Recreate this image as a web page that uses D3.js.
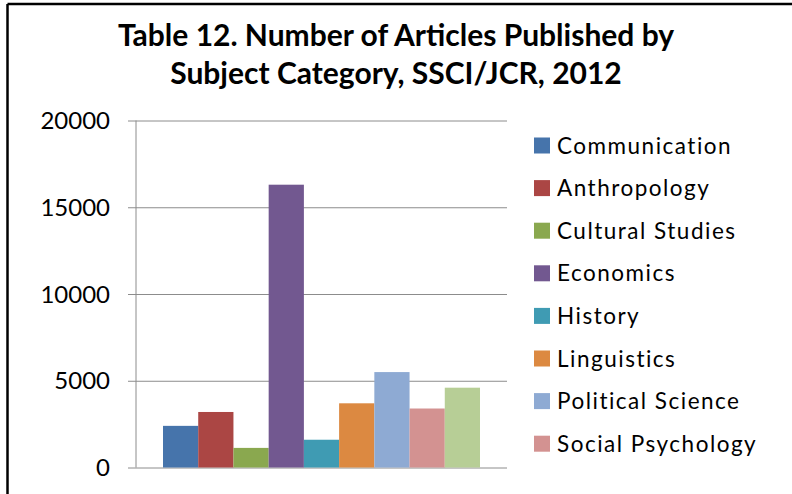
<!DOCTYPE html>
<html>
<head>
<meta charset="utf-8">
<script src="https://cdn.jsdelivr.net/npm/d3@7"></script>
<style>
  body { margin: 0; background: #fff; }
  svg { display: block; }
  text { font-family: Lato, "Open Sans", sans-serif; fill: #000; }
</style>
</head>
<body>
<svg id="chart" width="792" height="494"></svg>
<script>
// Data
var categories = ["Communication", "Anthropology", "Cultural Studies", "Economics", "History",
                  "Linguistics", "Political Science", "Social Psychology", "Sociology"];
var values = [2400, 3200, 1130, 16300, 1600, 3700, 5500, 3400, 4600];
var colors = ["#4674ab", "#ab4644", "#8aa84f", "#725890", "#3f9bb3",
              "#dc8941", "#8eaad3", "#d39291", "#b7ce96"];
var yTicks = [0, 5000, 10000, 15000, 20000];
var titleLines = ["Table 12. Number of Articles Published by", "Subject Category, SSCI/JCR, 2012"];
// the legend in the source is cut off after 8 entries
var legendShown = 8;

var svg = d3.select("#chart");

// Frame (only top and left edges visible in the source)
svg.append("line").attr("x1", 7.5).attr("y1", 4).attr("x2", 792).attr("y2", 4)
  .attr("stroke", "#000").attr("stroke-width", 2.5);
svg.append("line").attr("x1", 7.5).attr("y1", 4).attr("x2", 7.5).attr("y2", 494)
  .attr("stroke", "#000").attr("stroke-width", 2.5);

// Title
svg.selectAll(".title")
  .data(titleLines)
  .enter().append("text")
  .attr("class", "title")
  .attr("x", 396)
  .attr("y", function(d, i) { return 46 + i * 38; })
  .attr("text-anchor", "middle")
  .attr("font-size", 30)
  .attr("font-weight", "bold")
  .text(function(d) { return d; });

// Scales
var plot = { left: 136, right: 507, top: 120.5, bottom: 467.5 };
var y = d3.scaleLinear().domain([0, 20000]).range([plot.bottom, plot.top]);
var x = d3.scaleBand().domain(categories).range([163, 480]).padding(0);

// Gridlines + ticks
var yAxis = d3.axisLeft(y).tickValues(yTicks).tickSize(plot.left - plot.right).tickSizeOuter(0)
  .tickPadding(0);
var ga = svg.append("g").attr("transform", "translate(" + plot.right + ",0)").call(yAxis);
ga.select(".domain").remove();
ga.selectAll(".tick line").attr("stroke", "#8c8c8c").attr("x1", 0).attr("x2", -(plot.right - 128));
ga.selectAll(".tick text").remove();

// Tick labels
svg.selectAll(".ylab")
  .data(yTicks)
  .enter().append("text")
  .attr("class", "ylab")
  .attr("x", 110)
  .attr("y", function(d) { return y(d); })
  .attr("dy", "0.36em")
  .attr("text-anchor", "end")
  .attr("font-size", 24)
  .text(function(d) { return d; });

// Vertical axis line
svg.append("line").attr("x1", plot.left).attr("x2", plot.left)
  .attr("y1", plot.top).attr("y2", plot.bottom)
  .attr("stroke", "#8c8c8c").attr("stroke-width", 1);

// Bars
svg.selectAll(".bar")
  .data(values)
  .enter().append("rect")
  .attr("class", "bar")
  .attr("x", function(d, i) { return x(categories[i]); })
  .attr("width", x.bandwidth())
  .attr("y", function(d) { return y(d); })
  .attr("height", function(d) { return plot.bottom - y(d); })
  .attr("fill", function(d, i) { return colors[i]; });

// Legend
var legend = svg.selectAll(".legend")
  .data(categories.slice(0, legendShown))
  .enter().append("g")
  .attr("class", "legend")
  .attr("transform", function(d, i) { return "translate(534," + (145.5 + i * 42.6) + ")"; });

legend.append("rect")
  .attr("x", 0).attr("y", -8)
  .attr("width", 16).attr("height", 16)
  .attr("fill", function(d, i) { return colors[i]; });

legend.append("text")
  .attr("x", 23)
  .attr("dy", "0.36em")
  .attr("font-size", 22.5)
  .attr("letter-spacing", 1.5)
  .text(function(d) { return d; });
</script>
</body>
</html>
